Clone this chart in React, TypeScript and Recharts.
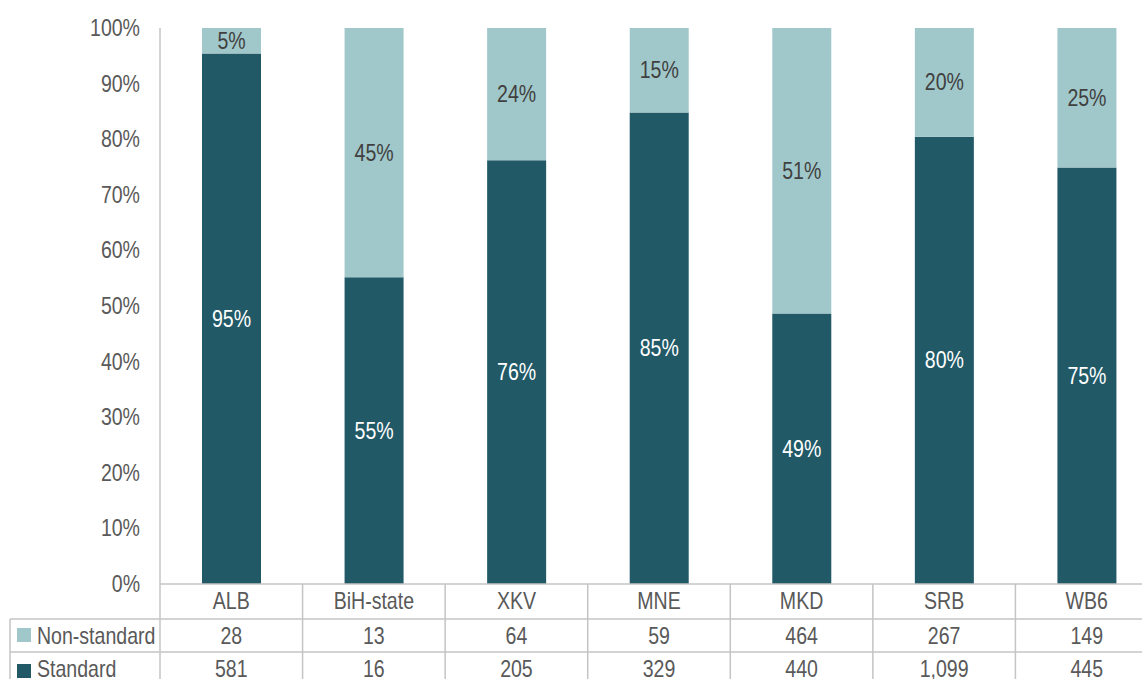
import React from 'react';
import { BarChart, Bar, XAxis, YAxis, LabelList } from 'recharts';

const categories = ['ALB', 'BiH-state', 'XKV', 'MNE', 'MKD', 'SRB', 'WB6'];
const standardCounts = [581, 16, 205, 329, 440, 1099, 445];
const nonStandardCounts = [28, 13, 64, 59, 464, 267, 149];
const yTicks = [0, 0.1, 0.2, 0.3, 0.4, 0.5, 0.6, 0.7, 0.8, 0.9, 1];

// no narrow font installed, so Liberation Sans squeezed horizontally
const FONT = '"Liberation Sans", Arial, sans-serif';
const FS = 23;
const SQUEEZE = 0.85;
const DARK = '#215967';
const LIGHT = '#A0C8CA';
const GRID = '#C4C4C4';
const TEXT = '#595959';

const CHART_W = 1158;
const CHART_H = 679;
const LEFT = 160;
const TOP = 28;
const AXIS_H = 95;
const PLOT_BOTTOM = CHART_H - AXIS_H;
const BAND = (CHART_W - LEFT) / categories.length;
const ROW1 = 619;
const ROW2 = 652;

const data = categories.map((name, i) => {
  const total = standardCounts[i] + nonStandardCounts[i];
  return {
    name,
    standard: standardCounts[i],
    nonStandard: nonStandardCounts[i],
    stdPct: Math.round((standardCounts[i] / total) * 100) + '%',
    nonPct: Math.round((nonStandardCounts[i] / total) * 100) + '%',
  };
});

const fmt = (n: number) => n.toLocaleString('en-US');

function NText({ x, y, anchor = 'middle', fill = TEXT, children }: any) {
  return (
    <text
      transform={`translate(${x} ${y}) scale(${SQUEEZE} 1)`}
      textAnchor={anchor}
      fill={fill}
      fontSize={FS}
      fontFamily={FONT}
    >
      {children}
    </text>
  );
}

function YTick(props: any) {
  const { x, y, payload } = props;
  return <NText x={x} y={y + 8} anchor="end">{Math.round(payload.value * 100) + '%'}</NText>;
}

function TableTick(props: any) {
  const { x, payload } = props;
  const i = categories.indexOf(payload.value);
  const right = x + BAND / 2;
  return (
    <g>
      <line x1={right} y1={PLOT_BOTTOM} x2={right} y2={CHART_H} stroke={GRID} strokeWidth={1.5} />
      <NText x={x} y={609}>{payload.value}</NText>
      <NText x={x} y={644}>{fmt(nonStandardCounts[i])}</NText>
      <NText x={x} y={677}>{fmt(standardCounts[i])}</NText>
    </g>
  );
}

const barLabel = (fill: string) => (props: any) => {
  const { x, y, width, height, value } = props;
  return <NText x={x + width / 2} y={y + height / 2 + 8} fill={fill}>{value}</NText>;
};

export default function App() {
  return (
    <div style={{ position: 'absolute', left: 0, top: 0, width: 1142, height: 679, overflow: 'hidden', background: '#fff' }}>
      <BarChart
        width={CHART_W}
        height={CHART_H}
        data={data}
        stackOffset="expand"
        margin={{ top: TOP, right: 0, bottom: 0, left: 0 }}
      >
        <YAxis
          width={LEFT}
          domain={[0, 1]}
          ticks={yTicks}
          tickLine={false}
          tickSize={0}
          tickMargin={20}
          axisLine={{ stroke: GRID, strokeWidth: 1.5 }}
          tick={<YTick />}
        />
        <XAxis
          dataKey="name"
          height={AXIS_H}
          tickLine={false}
          axisLine={{ stroke: GRID, strokeWidth: 1.5 }}
          tick={<TableTick />}
          interval={0}
        />
        <Bar dataKey="standard" stackId="a" fill={DARK} barSize={59} isAnimationActive={false}>
          <LabelList dataKey="stdPct" content={barLabel('#ffffff')} />
        </Bar>
        <Bar dataKey="nonStandard" stackId="a" fill={LIGHT} barSize={59} isAnimationActive={false}>
          <LabelList dataKey="nonPct" content={barLabel('#404040')} />
        </Bar>
      </BarChart>
      <svg width={1142} height={679} style={{ position: 'absolute', left: 0, top: 0, pointerEvents: 'none' }}>
        <line x1={LEFT} y1={PLOT_BOTTOM} x2={LEFT} y2={CHART_H} stroke={GRID} strokeWidth={1.5} />
        <line x1={10} y1={ROW1} x2={1142} y2={ROW1} stroke={GRID} strokeWidth={1.5} />
        <line x1={10} y1={ROW2} x2={1142} y2={ROW2} stroke={GRID} strokeWidth={1.5} />
        <line x1={10} y1={ROW1} x2={10} y2={CHART_H} stroke={GRID} strokeWidth={1.5} />
        <rect x={17} y={628} width={14} height={14} fill={LIGHT} />
        <NText x={37} y={644} anchor="start">Non-standard</NText>
        <rect x={17} y={664} width={14} height={14} fill={DARK} />
        <NText x={37} y={677} anchor="start">Standard</NText>
      </svg>
    </div>
  );
}
